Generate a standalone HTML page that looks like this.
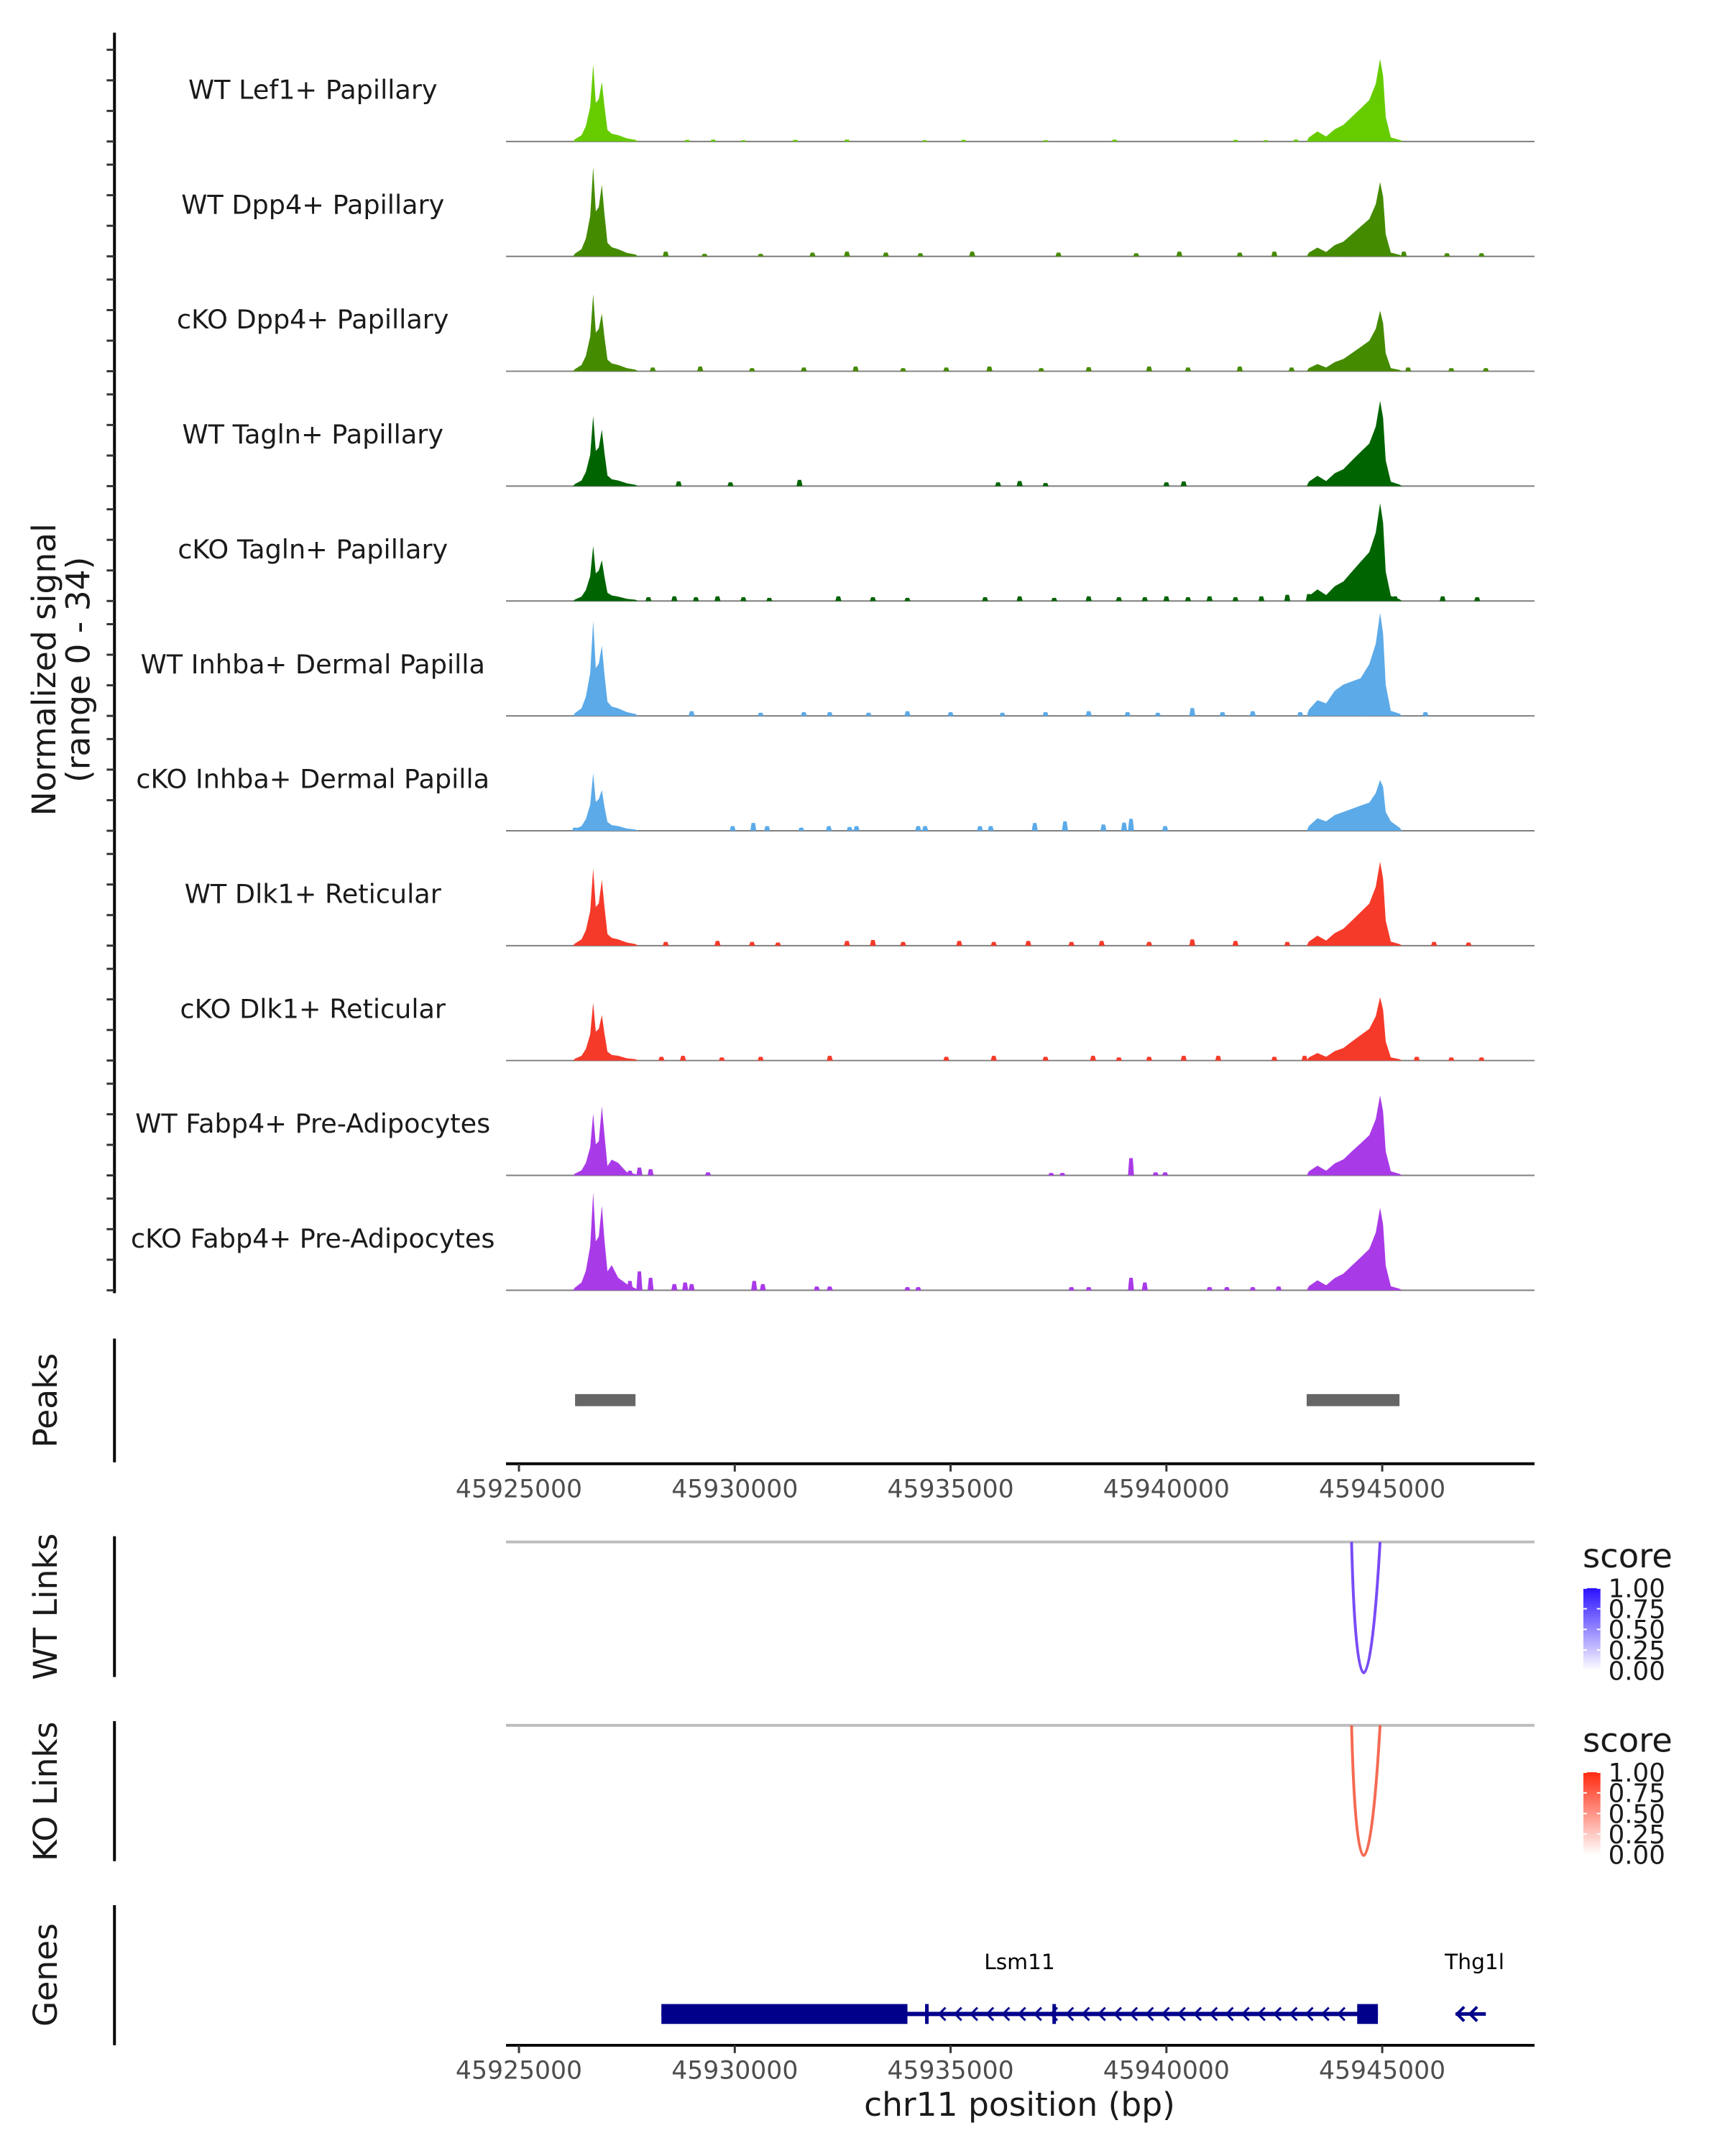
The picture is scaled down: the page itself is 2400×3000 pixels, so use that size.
<!DOCTYPE html>
<html><head><meta charset="utf-8">
<style>
html,body{margin:0;padding:0;background:#fff;}
svg{display:block;font-family:"DejaVu Sans","Liberation Sans",sans-serif;}
</style></head>
<body>
<svg id="chart" width="2400" height="3000" viewBox="0 0 2400 3000" xmlns="http://www.w3.org/2000/svg">
<rect x="0" y="0" width="2400" height="3000" fill="#fff"/>
<g id="root" transform="scale(0.9892)"></g>
</svg>
<script>
// ---------- data ----------
const trackNames = ["WT Lef1+ Papillary","WT Dpp4+ Papillary","cKO Dpp4+ Papillary","WT Tagln+ Papillary","cKO Tagln+ Papillary","WT Inhba+ Dermal Papilla","cKO Inhba+ Dermal Papilla","WT Dlk1+ Reticular","cKO Dlk1+ Reticular","WT Fabp4+ Pre-Adipocytes","cKO Fabp4+ Pre-Adipocytes"];
const trackColors = ["#66cc00","#458b00","#458b00","#006400","#006400","#5caae8","#5caae8","#f53a2a","#f53a2a","#a93ae8","#a93ae8"];
const leftPos = [45926300,45926450,45926550,45926650,45926720,45926780,45926850,45926920,45926980,45927050,45927150,45927300,45927500,45927700];
const rightPos = [45943300,45943500,45943700,45943900,45944100,45944300,45944500,45944700,45944850,45944950,45945020,45945080,45945200,45945400];
const leftVals = [
 [0.7,2,4.9,11,24.6,12.3,13.5,19,11.4,3.7,2.5,2,1,0.5],
 [0.9,2.3,5.7,12.8,28.5,14.3,15.7,22.8,13.7,4.3,2.9,2.3,1.1,0.6],
 [0.7,2,4.9,11,24.6,12.3,13.5,18.4,11,3.7,2.5,2,1,0.5],
 [0.7,1.8,4.5,10,22.4,11.2,12.3,18,10.8,3.4,2.2,1.8,0.9,0.4],
 [0.5,1.4,3.5,7.9,17.6,8.8,9.7,13,7.8,2.6,1.8,1.4,0.7,0.4],
 [0.9,2.4,6.1,13.6,30.3,15.2,16.7,22.4,13.4,4.5,3,2.4,1.2,0.6],
 [0.6,1.5,3.7,8.3,18.4,9.2,10.1,13,7.8,2.8,1.8,1.5,0.7,0.4],
 [0.7,2,4.9,11,24.6,12.3,13.5,21,12.6,3.7,2.5,2,1,0.5],
 [0.6,1.5,3.7,8.3,18.4,9.2,10.1,14.5,8.7,2.8,1.8,1.5,0.7,0.4],
 [0.6,1.6,4,8.9,19.8,9.9,10.9,22,13.2,3,5,4,1,0.4],
 [0.9,2.5,6.2,14,31.2,15.6,17.2,27,16.2,6,8,4,2,0.6]
];
const rightVals = [
 [1.3,3.2,1.6,3.9,5.3,7.9,10.5,13.2,18.4,26.3,21,7.9,1.3,0.5],
 [1.2,2.8,1.4,3.6,4.7,7.1,9.5,11.9,16.6,23.7,19,7.1,1.2,0.5],
 [1,2.3,1.2,2.9,3.9,5.8,7.7,9.7,13.5,19.3,15.4,5.8,1,0.4],
 [1.4,3.3,1.6,4.1,5.4,8.2,10.9,13.6,19,27.2,21.8,8.2,1.4,0.5],
 [1.6,3.7,1.9,4.7,6.2,9.4,12.5,15.6,21.8,31.2,25,9.4,1.6,0.6],
 [2,5,4,8,10,11,12,16.5,23,32.9,26.3,9.9,1.6,0.7],
 [1.5,4,3,5,6,7,8,9,12,16.2,14,6,3,1],
 [1.3,3.2,1.6,4,5.4,8,10.7,13.4,18.8,26.8,21.4,8,1.3,0.5],
 [1,2.4,1.2,3,4,6.1,8.1,10.1,14.1,20.2,16.2,6.1,1,0.4],
 [1.3,3.1,1.5,3.8,5.1,7.7,10.2,12.8,17.9,25.5,20.4,7.7,1.3,0.5],
 [1.3,3.2,1.6,3.9,5.3,7.9,10.5,13.2,18.4,26.3,21,7.9,1.3,0.5]
];
// small scattered signal: offsets in kb from 45925000, and heights
const blipPos = [
 [3.9,4.5,5.2,6.4,7.6,9.4,10.3,12.2,13.8,16.6,17.3,18,18.4,20.4],
 [3.4,4.3,5.6,6.8,7.6,8.5,9.3,10.5,12.5,14.3,15.3,16.7,17.5,19.1,20.5,21.5,22.3],
 [3.1,4.2,5.4,6.6,7.8,8.9,9.9,10.9,12.1,13.2,14.6,15.5,16.7,17.9,18.6,20.6,21.6,22.4],
 [2.2,3.7,4.9,6.5,11.1,11.6,12.2,15.0,15.4,18.5,18.9],
 [3.0,3.6,4.1,4.6,5.2,5.8,7.4,8.2,9.0,10.8,11.6,12.4,13.2,13.9,14.5,15.0,15.5,16.0,16.6,17.2,17.8,18.3,19.2,20.3,21.4,22.2],
 [2.2,4.0,5.6,6.6,7.2,8.1,9.0,10.0,11.2,12.2,13.2,14.1,14.8,15.6,16.3,17.0,18.1,19.6,21.0],
 [1.3,4.95,5.43,5.75,6.54,7.18,7.66,7.82,9.25,9.41,10.68,10.93,11.95,12.65,13.54,14.02,14.18,14.97,19.6],
 [1.8,3.4,4.6,5.4,6.0,7.6,8.2,8.9,10.2,11.0,11.8,12.8,13.5,14.6,15.6,16.6,17.8,18.7,21.2,22.0],
 [1.9,3.3,3.8,4.7,5.6,7.2,9.9,11.0,12.2,13.3,13.9,14.6,15.4,16.2,17.5,18.2,20.8,21.6,22.3],
 [2.57,2.79,3.05,4.38,12.33,12.59,14.18,14.75,14.97],
 [2.57,2.79,3.05,3.6,3.85,4.0,5.45,5.65,6.9,7.2,9.0,9.25,12.8,13.2,14.18,14.5,16.0,16.4,17.0,17.6]
];
const blipVal = [
 [0.5,0.6,0.4,0.5,0.6,0.4,0.5,0.4,0.6,0.5,0.4,0.6,0.5,0.4],
 [1.5,0.8,0.8,1.2,1.5,1.2,1,1.5,1.2,1,1.5,1.2,1.5,1.2,1.5,1,1],
 [1.2,1.5,1,1.2,1.5,1,1.2,1.5,1,1.3,1.5,1.2,1.5,1.2,1.5,1.2,1,1],
 [1,1.5,1.2,2,1.2,1.6,1,1.2,1.5,1.2,1],
 [1.2,1.5,1.2,1.5,1.2,1,1.5,1.2,1,1.2,1.5,1,1.5,1.2,1.2,1.5,1.2,1.5,1.2,1.5,2,2.2,2,1.5,1.5,1.2],
 [1.2,1.5,1,1.2,1.2,1,1.5,1.2,1,1.2,1.5,1.2,1,2.5,1.2,1.5,1.2,1.5,1.2],
 [1,1.5,2.5,1.5,1,1.5,1.2,1.5,1.5,1.5,1.5,1.5,2.5,3,2,2.6,3.8,1.5,1.5],
 [1,1.2,1.5,1.2,1,1.5,1.8,1.2,1.5,1.2,1.5,1.2,1.5,1.2,2,1.5,1.2,1,1.2,1],
 [1,1.2,1.5,1,1.2,1.5,1.2,1.5,1.2,1.5,1,1.2,1.5,1.5,1.2,1.5,1.2,1,1],
 [1.5,2.5,2,1,0.8,0.8,5.5,1,1],
 [3,6,4,2,2.5,2,3,2,1.2,1.2,1,1,1,1,4,2.5,1,1,1,1.2]
];
const xTicks = [45925000,45930000,45935000,45940000,45945000];
const peakStarts = [45926300,45943250];
const peakEnds = [45927700,45945400];
const legendTicks = ["1.00","0.75","0.50","0.25","0.00"];
const wtLinkStart = [45944290];
const wtLinkEnd = [45944950];
const wtLinkScore = [0.8];
const koLinkStart = [45944290];
const koLinkEnd = [45944950];
const koLinkScore = [0.8];
const geneExonsLsm11 = [[45928300,45934000],[45944420,45944900]];
const lsm11Span = [45928300,45944900];
const thg1lSpan = [45946700,45947400];

// ---------- scales ----------
const NS = "http://www.w3.org/2000/svg";
const svg = document.getElementById('root');
const X0 = 729.9, PXPERBP = 60.71/1000;
function xs(bp){ return X0 + (bp-45925000)*PXPERBP; }
const PLOT_L = 711.7, PLOT_R = 2158.3;
const BASE0 = 199, TRACK_H = 161.6, UNIT = 150/34;
function ys(track, v){ return BASE0 + track*TRACK_H - v*UNIT; }
function mk(tag, attrs, parent){
  const e = document.createElementNS(NS, tag);
  for (const k in attrs) e.setAttribute(k, attrs[k]);
  (parent||svg).appendChild(e);
  return e;
}

// ---------- signal tracks ----------
const gY = mk('g', {});


const ax = mk('line', {x1:161,y1:46,x2:161,y2:1819,stroke:'#000','stroke-width':4}, gY);


for (let t=0;t<11;t++){
  const b = BASE0 + t*TRACK_H;
  [0,43,86,129].forEach(function(d){
    const tk = mk('line', {x1:150,y1:b-d,x2:161,y2:b-d,stroke:'#333','stroke-width':3}, gY);
    
    
  });
  const g = mk('g', {}, gY);
  
  
  const lab = mk('text', {x:440,y:b-60,'text-anchor':'middle','font-size':37,fill:'#1a1a1a'}, g);
  lab.textContent = trackNames[t];
  
  
  const base = mk('line', {x1:PLOT_L,y1:b,x2:PLOT_R,y2:b,stroke:'#7f7f7f','stroke-width':2}, g);
  
  
  [[leftPos,leftVals[t]],[rightPos,rightVals[t]]].forEach(function(pr){
    const pos = pr[0], vals = pr[1];
    let d = 'M' + xs(pos[0]-50).toFixed(1) + ',' + b;
    for (let i=0;i<pos.length;i++) d += ' L' + xs(pos[i]).toFixed(1) + ',' + ys(t, vals[i]).toFixed(1);
    d += ' L' + xs(pos[pos.length-1]+60).toFixed(1) + ',' + b + ' Z';
    const p = mk('path', {d:d, fill:trackColors[t]}, g);
    
    
  });
  for (let i=0;i<blipPos[t].length;i++){
    const c = 45925000 + blipPos[t][i]*1000;
    const yTop = ys(t, blipVal[t][i]);
    const d = 'M' + xs(c-70).toFixed(1) + ',' + b + ' L' + xs(c-40).toFixed(1) + ',' + yTop.toFixed(1) +
      ' L' + xs(c+40).toFixed(1) + ',' + yTop.toFixed(1) + ' L' + xs(c+70).toFixed(1) + ',' + b + ' Z';
    const p = mk('path', {d:d, fill:trackColors[t]}, g);
    
    
  }
}
const yt = mk('text', {transform:'translate(78,942) rotate(-90)','text-anchor':'middle','font-size':46,fill:'#1a1a1a'});


const t1 = mk('tspan', {x:0,y:0}, yt); t1.textContent = 'Normalized signal';
const t2 = mk('tspan', {x:0,y:48}, yt); t2.textContent = '(range 0 - 34)';

// ---------- panel labels ----------
function panelLabel(txt, cy, name, y1, y2){
  const l = mk('line', {x1:161,y1:y1,x2:161,y2:y2,stroke:'#000','stroke-width':4});
  
  
  const t = mk('text', {transform:'translate(80,'+cy+') rotate(-90)','text-anchor':'middle','font-size':46,fill:'#1a1a1a'});
  t.textContent = txt;
  
  
}
panelLabel('Peaks', 1970, 'peaks', 1883, 2057);
panelLabel('WT Links', 2260, 'wt-links', 2161, 2359);
panelLabel('KO Links', 2520, 'ko-links', 2421, 2618);
panelLabel('Genes', 2778, 'genes', 2680, 2877);

// ---------- peaks ----------
for (let i=0;i<peakStarts.length;i++){
  const r = mk('rect', {x:xs(peakStarts[i]),y:1961,width:xs(peakEnds[i])-xs(peakStarts[i]),height:17,fill:'#666'});
  
  
}

// ---------- x axes ----------
function xAxis(y, name){
  const g = mk('g', {});
  
  
  mk('line', {x1:PLOT_L,y1:y,x2:PLOT_R,y2:y,stroke:'#000','stroke-width':4}, g);
  xTicks.forEach(function(v){
    const x = xs(v);
    mk('line', {x1:x,y1:y,x2:x,y2:y+11,stroke:'#333','stroke-width':3}, g);
    const t = mk('text', {x:x,y:y+47,'text-anchor':'middle','font-size':35,fill:'#4d4d4d'}, g);
    t.textContent = String(v);
    
    
  });
}
xAxis(2059, 'peaks-x-axis');
xAxis(2877, 'genes-x-axis');
const xt = mk('text', {x:1434,y:2976,'text-anchor':'middle','font-size':46,fill:'#1a1a1a'});
xt.textContent = 'chr11 position (bp)';



// ---------- links ----------
function links(top, bottom, starts, ends, scores, color, name){
  const g = mk('g', {});
  
  
  mk('line', {x1:PLOT_L,y1:top,x2:PLOT_R,y2:top,stroke:'#bdbdbd','stroke-width':4}, g);
  for (let i=0;i<starts.length;i++){
    const a = xs(starts[i]), b = xs(ends[i]);
    const c = (bottom - 0.25*top)/0.75;
    const p = mk('path', {d:'M'+a+','+top+' C'+(a+6)+','+c+' '+(b-14)+','+c+' '+b+','+top,fill:'none',stroke:color,'stroke-width':4,'stroke-opacity':0.4+0.6*scores[i]}, g);
    
    
  }
}
links(2169, 2353, wtLinkStart, wtLinkEnd, wtLinkScore, '#6633f5', 'wt-links-panel');
links(2427, 2610, koLinkStart, koLinkEnd, koLinkScore, '#f4553a', 'ko-links-panel');

// ---------- legends ----------
function legend(y0, col, id, name){
  const g = mk('g', {});
  
  
  const defs = mk('defs', {}, g);
  const lg = mk('linearGradient', {id:id,x1:0,y1:1,x2:0,y2:0}, defs);
  mk('stop', {offset:0,'stop-color':'#ffffff'}, lg);
  mk('stop', {offset:1,'stop-color':col}, lg);
  const t = mk('text', {x:2226,y:y0,'font-size':47,fill:'#1a1a1a'}, g);
  t.textContent = 'score';
  const gy = y0 + 29;
  mk('rect', {x:2227,y:gy,width:24,height:116,fill:'url(#'+id+')'}, g);
  legendTicks.forEach(function(v,i){
    const yy = gy + i*29;
    mk('line', {x1:2227,y1:yy,x2:2232,y2:yy,stroke:'#fff','stroke-width':2}, g);
    mk('line', {x1:2246,y1:yy,x2:2251,y2:yy,stroke:'#fff','stroke-width':2}, g);
    const tt = mk('text', {x:2262,y:yy+13,'font-size':36,fill:'#1a1a1a'}, g);
    tt.textContent = v;
  });
}
legend(2205, '#2a11ff', 'gradWT', 'wt-score-legend');
legend(2464, '#ff2a10', 'gradKO', 'ko-score-legend');

// ---------- genes ----------
const gg = mk('g', {});


const GY = 2833, NAVY = '#00008b';
mk('line', {x1:xs(lsm11Span[0]),y1:GY,x2:xs(lsm11Span[1]),y2:GY,stroke:NAVY,'stroke-width':6}, gg);
geneExonsLsm11.forEach(function(e){
  const r = mk('rect', {x:xs(e[0]),y:GY-14,width:xs(e[1])-xs(e[0]),height:28,fill:NAVY}, gg);
  
  
});
[45934450,45937400].forEach(function(p){
  mk('line', {x1:xs(p),y1:GY-14,x2:xs(p),y2:GY+14,stroke:NAVY,'stroke-width':5}, gg);
});
for (let p = 45934800; p < 45944350; p += 370){
  const x = xs(p);
  mk('path', {d:'M'+(x+5)+','+(GY-9)+' L'+(x-4)+','+GY+' L'+(x+5)+','+(GY+9),fill:'none',stroke:NAVY,'stroke-width':3}, gg);
}
mk('line', {x1:xs(thg1lSpan[0]),y1:GY,x2:xs(thg1lSpan[1]),y2:GY,stroke:NAVY,'stroke-width':5}, gg);
[46.8,47.1].forEach(function(k){
  const x = xs(45900000 + k*1000);
  mk('path', {d:'M'+(x+6)+','+(GY-10)+' L'+(x-4)+','+GY+' L'+(x+6)+','+(GY+10),fill:'none',stroke:NAVY,'stroke-width':4}, gg);
});
const gl1 = mk('text', {x:1434,y:2770,'text-anchor':'middle','font-size':30,fill:'#000'}, gg);
gl1.textContent = 'Lsm11';


const gl2 = mk('text', {x:2074,y:2770,'text-anchor':'middle','font-size':30,fill:'#000'}, gg);
gl2.textContent = 'Thg1l';


</script>
</body></html>
